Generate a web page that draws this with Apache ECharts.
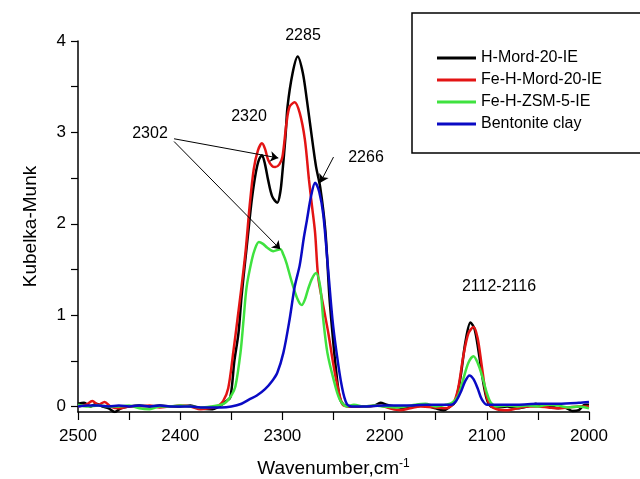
<!DOCTYPE html>
<html>
<head>
<meta charset="utf-8">
<script src="https://cdn.jsdelivr.net/npm/echarts@6/dist/echarts.min.js"></script>
<style>
  html, body { margin: 0; padding: 0; background: #fff; }
  #main { width: 640px; height: 479px; }
</style>
</head>
<body>
<div id="main"></div>
<script>
// series names
var seriesNames = ['H-Mord-20-IE', 'Fe-H-Mord-20-IE', 'Fe-H-ZSM-5-IE', 'Bentonite clay'];

// H-Mord-20-IE (black)
var hMordWn = [2500, 2494, 2488, 2482, 2476, 2470, 2464, 2458, 2450, 2440, 2430, 2420, 2410, 2400, 2390, 2380, 2370, 2362, 2356, 2351, 2347, 2343, 2340, 2337, 2333, 2330, 2326, 2323, 2320, 2317, 2314, 2310, 2305, 2302, 2300, 2297, 2295, 2290, 2285, 2280, 2276, 2273, 2270, 2267, 2263, 2258, 2254, 2251, 2248, 2244, 2240, 2232, 2220, 2210, 2204, 2198, 2190, 2180, 2170, 2160, 2150, 2142, 2136, 2131, 2126, 2121, 2116, 2112, 2108, 2104, 2100, 2096, 2090, 2080, 2070, 2060, 2052, 2046, 2040, 2030, 2024, 2016, 2010, 2004, 2000];
var hMordKM = [0.03, 0.04, 0.0, 0.03, 0.0, -0.02, -0.06, -0.02, 0.0, 0.01, 0.0, 0.01, 0.0, 0.0, 0.01, -0.02, -0.03, 0.0, 0.05, 0.1, 0.5, 0.8, 1.2, 1.53, 1.95, 2.26, 2.56, 2.7, 2.75, 2.65, 2.48, 2.3, 2.23, 2.35, 2.56, 2.95, 3.28, 3.65, 3.83, 3.65, 3.35, 3.1, 2.85, 2.62, 2.4, 1.93, 1.2, 0.8, 0.45, 0.1, 0.02, 0.0, 0.0, 0.01, 0.04, 0.02, 0.0, -0.02, 0.0, 0.01, -0.02, -0.04, 0.0, 0.05, 0.3, 0.7, 0.92, 0.85, 0.6, 0.3, 0.08, 0.0, -0.01, 0.0, -0.02, 0.0, 0.03, 0.0, 0.01, -0.02, -0.01, -0.05, -0.04, 0.02, 0.02];

// Fe-H-Mord-20-IE (red)
var feMordWn = [2500, 2492, 2486, 2480, 2474, 2468, 2460, 2450, 2440, 2430, 2420, 2410, 2400, 2390, 2380, 2372, 2364, 2358, 2353, 2348, 2344, 2340, 2336, 2332, 2328, 2324, 2320, 2317, 2314, 2310, 2307, 2303, 2300, 2296, 2293, 2288, 2283, 2278, 2274, 2271, 2268, 2265, 2260, 2255, 2250, 2246, 2241, 2235, 2220, 2205, 2195, 2185, 2175, 2165, 2150, 2140, 2133, 2128, 2123, 2118, 2113, 2109, 2105, 2101, 2097, 2090, 2080, 2070, 2060, 2050, 2040, 2030, 2020, 2010, 2000];
var feMordKM = [0.0, 0.02, 0.06, 0.02, 0.05, 0.0, -0.02, 0.0, 0.0, 0.01, -0.01, 0.0, 0.01, 0.0, -0.03, -0.02, 0.0, 0.06, 0.2, 0.6, 0.95, 1.31, 1.7, 2.2, 2.6, 2.8, 2.88, 2.82, 2.7, 2.63, 2.62, 2.65, 2.73, 3.1, 3.28, 3.33, 3.21, 2.92, 2.48, 2.19, 1.9, 1.42, 1.1, 0.8, 0.45, 0.22, 0.02, 0.0, 0.0, 0.01, -0.02, -0.04, -0.02, 0.0, -0.01, -0.02, 0.03, 0.2, 0.55, 0.8, 0.87, 0.75, 0.45, 0.15, 0.02, -0.03, -0.04, -0.02, 0.0, 0.0, -0.01, -0.02, -0.01, 0.0, 0.0];

// Fe-H-ZSM-5-IE (green)
var feZsmWn = [2500, 2490, 2480, 2470, 2460, 2450, 2440, 2430, 2420, 2410, 2400, 2390, 2380, 2370, 2360, 2355, 2350, 2346, 2341, 2338, 2335, 2330, 2327, 2323, 2319, 2315, 2309, 2302, 2299, 2296, 2291, 2285, 2281, 2278, 2275, 2271, 2267, 2263, 2260, 2256, 2250, 2244, 2237, 2230, 2220, 2210, 2200, 2190, 2180, 2170, 2160, 2150, 2140, 2134, 2128, 2123, 2118, 2113, 2109, 2105, 2100, 2096, 2090, 2080, 2070, 2060, 2050, 2040, 2030, 2020, 2010, 2000];
var feZsmKM = [0.02, 0.0, 0.01, 0.0, 0.0, 0.01, -0.02, -0.03, 0.0, 0.0, 0.01, 0.0, -0.01, 0.0, 0.02, 0.05, 0.12, 0.22, 0.59, 0.95, 1.31, 1.6, 1.72, 1.8, 1.78, 1.74, 1.7, 1.72, 1.66, 1.57, 1.37, 1.17, 1.11, 1.17, 1.28, 1.4, 1.46, 1.31, 0.95, 0.59, 0.3, 0.08, 0.0, 0.02, 0.0, 0.01, 0.0, -0.01, 0.0, 0.02, 0.03, 0.0, 0.02, 0.04, 0.12, 0.3, 0.48, 0.55, 0.48, 0.35, 0.15, 0.04, 0.0, 0.01, 0.0, 0.01, 0.0, 0.02, 0.01, -0.01, 0.0, -0.02];

// Bentonite clay (blue)
var bentWn = [2500, 2490, 2480, 2470, 2460, 2450, 2440, 2430, 2420, 2410, 2400, 2390, 2380, 2370, 2360, 2350, 2340, 2332, 2325, 2317, 2310, 2305, 2299, 2293, 2288, 2283, 2279, 2276, 2272, 2268, 2264, 2260, 2256, 2251, 2247, 2242, 2237, 2230, 2220, 2200, 2180, 2160, 2145, 2135, 2130, 2125, 2121, 2117, 2113, 2109, 2105, 2100, 2090, 2070, 2050, 2030, 2010, 2000];
var bentKM = [0.0, 0.01, 0.01, 0.0, 0.01, 0.0, 0.01, 0.0, 0.01, 0.0, 0.0, 0.0, -0.01, -0.01, -0.01, 0.0, 0.03, 0.08, 0.12, 0.19, 0.28, 0.37, 0.59, 0.95, 1.31, 1.55, 1.85, 2.04, 2.3, 2.45, 2.35, 2.1, 1.6, 0.95, 0.59, 0.23, 0.03, 0.0, 0.0, 0.01, 0.01, 0.02, 0.02, 0.02, 0.06, 0.17, 0.28, 0.34, 0.3, 0.2, 0.08, 0.02, 0.02, 0.02, 0.03, 0.03, 0.04, 0.05];

// axis ticks
var yLabelValues = [0, 1, 2, 3, 4];
var yTickValues = [0, 0.5, 1, 1.5, 2, 2.5, 3, 3.5, 4];

// annotation arrows [fromWn, fromKM, toWn, toKM]
var arrows = [
    [2406, 2.93, 2304, 2.72],
    [2406, 2.90, 2302, 1.72],
    [2250, 2.73, 2263, 2.45]
];

function pairs(xs, ys) {
    var out = [];
    for (var i = 0; i < xs.length; i++) out.push([xs[i], ys[i]]);
    return out;
}

var font = '"Liberation Sans", Arial, sans-serif';
var colors = ['#000000', '#e31414', '#3fe23f', '#0a0ac4'];
var seriesData = [pairs(hMordWn, hMordKM), pairs(feMordWn, feMordKM), pairs(feZsmWn, feZsmKM), pairs(bentWn, bentKM)];

var myChart = echarts.init(document.getElementById('main'));

var series = seriesNames.map(function (name, i) {
    return {
        name: name,
        type: 'line',
        data: seriesData[i],
        showSymbol: false,
        smooth: 0.3,
        z: 2 + i,
        itemStyle: { color: colors[i] },
        lineStyle: { color: colors[i], width: 2.5 }
    };
});

series[0].markLine = {
    silent: true,
    symbol: ['none', 'arrow'],
    symbolSize: 8,
    label: { show: false },
    lineStyle: { color: '#000', width: 1, type: 'solid' },
    data: arrows.map(function (a) {
        return [{ coord: [a[0], a[1]] }, { coord: [a[2], a[3]] }];
    })
};

function label(text, x, y) {
    return {
        type: 'text', x: x, y: y, z: 10,
        style: { text: text, fill: '#000', font: '16px ' + font, align: 'center', verticalAlign: 'middle' }
    };
}

var option = {
    animation: false,
    backgroundColor: '#fff',
    grid: { left: 78, right: 51, top: 41, bottom: 67, outerBoundsMode: 'none' },
    legend: {
        orient: 'vertical',
        left: 432,
        top: 45,
        icon: 'rect',
        itemWidth: 39,
        itemHeight: 3,
        itemGap: 6,
        selectedMode: false,
        textStyle: { color: '#000', fontSize: 16, fontFamily: font },
        data: seriesNames
    },
    xAxis: {
        type: 'value',
        inverse: true,
        min: 2000,
        max: 2500,
        interval: 100,
        name: '{a|Wavenumber,cm}{s|-1}',
        nameLocation: 'middle',
        nameGap: 46,
        nameTextStyle: {
            rich: {
                a: { fontSize: 19, fontFamily: font, color: '#000' },
                s: { fontSize: 12, fontFamily: font, color: '#000', verticalAlign: 'top', padding: [0, 0, 10, 0] }
            }
        },
        axisLine: { show: true, onZero: false, lineStyle: { color: '#000', width: 1.5 } },
        axisTick: { show: true, length: 8, lineStyle: { color: '#000', width: 1.2 } },
        minorTick: { show: true, splitNumber: 2, length: 8, lineStyle: { color: '#000', width: 1.2 } },
        axisLabel: { color: '#000', fontSize: 17, fontFamily: font, margin: 16, formatter: function (v) { return String(v); } },
        splitLine: { show: false }
    },
    yAxis: {
        type: 'value',
        min: -0.06,
        max: 4,
        name: 'Kubelka-Munk',
        nameLocation: 'middle',
        nameGap: 38,
        nameTextStyle: { color: '#000', fontSize: 19, fontFamily: font },
        axisLine: { show: true, onZero: false, lineStyle: { color: '#000', width: 1.5 } },
        axisTick: { show: true, length: 7, customValues: yTickValues, lineStyle: { color: '#000', width: 1.2 } },
        axisLabel: { color: '#000', fontSize: 17, fontFamily: font, margin: 12, customValues: yLabelValues },
        splitLine: { show: false }
    },
    graphic: [
        {
            type: 'rect', z: 1,
            shape: { x: 412, y: 13, width: 260, height: 140 },
            style: { fill: '#fff', stroke: '#000', lineWidth: 1.5 }
        },
        label('2285', 303, 36),
        label('2320', 249, 117),
        label('2302', 150, 134),
        label('2266', 366, 158),
        label('2112-2116', 499, 287)
    ],
    series: series
};

myChart.setOption(option);
</script>
</body>
</html>
